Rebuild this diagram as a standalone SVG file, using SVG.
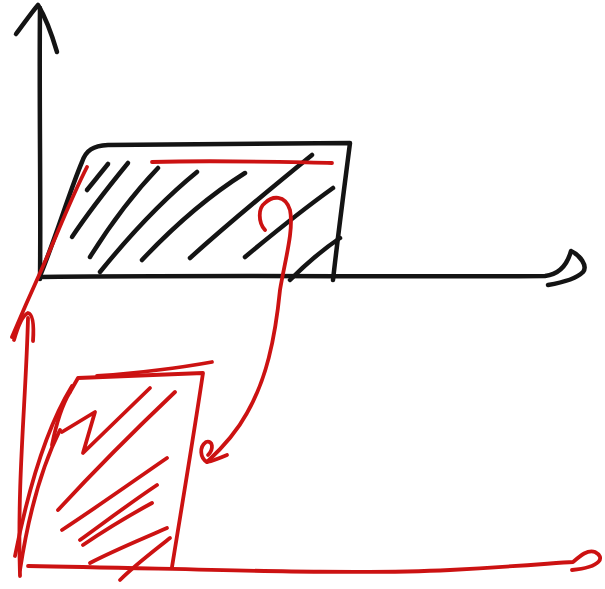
<svg xmlns="http://www.w3.org/2000/svg" width="605" height="589" viewBox="0 0 605 589">
<style>
.k{fill:none;stroke:#141414;stroke-width:4.5;stroke-linecap:round;stroke-linejoin:round}
.r{fill:none;stroke:#cc1212;stroke-width:3.8;stroke-linecap:round;stroke-linejoin:round}
</style>
<rect width="605" height="589" fill="#ffffff"/>
<g id="black-axes">
<path class="k" d="M40,279 C41,200 39,100 40,8"/>
<path class="k" d="M16,34 C25,22 32,12 38,5 C46,18 52,35 57,52"/>
<path class="k" d="M40,277 C200,275 400,277 545,276 C562,274 568,262 571,251 C580,255 588,266 583,272 C575,280 560,283 548,285"/>
</g>
<g id="black-box">
<path class="k" d="M40,276 C55,240 70,190 82,162 C86,150 93,146 108,145 L350,143 C344,190 338,235 333,280"/>
<path class="k" d="M87,190 L108,164"/>
<path class="k" d="M72,237 C90,210 110,185 128,163"/>
<path class="k" d="M90,257 C110,225 135,192 158,168"/>
<path class="k" d="M100,272 C130,235 165,198 197,172"/>
<path class="k" d="M142,260 C175,225 210,195 245,173"/>
<path class="k" d="M190,258 C230,222 275,185 312,155"/>
<path class="k" d="M245,257 C275,232 305,208 333,188"/>
<path class="k" d="M290,280 C305,265 322,250 340,238"/>
</g>
<g id="red-upper">
<path class="r" d="M152,162 C220,160 280,162 332,163"/>
<path class="r" d="M87,167 C70,200 55,240 40,273 C30,295 20,318 12,337"/>
<path class="r" d="M14,340 C18,326 23,315 28,313 C33,314 34,326 33,341"/>
<path class="r" d="M28,318 C26,400 17,480 20,576"/>
</g>
<g id="red-box">
<path class="r" d="M15,556 C28,490 45,430 72,386"/>
<path class="r" d="M20,570 C30,505 44,462 60,430"/>
<path class="r" stroke-width="6" d="M52,445 C57,420 62,405 70,392"/>
<path class="r" d="M70,392 L78,378 L203,373 C193,440 182,505 172,567"/>
<path class="r" d="M97,376 C150,372 190,366 212,362"/>
<path class="r" d="M62,432 L95,412 L83,453 L150,388"/>
<path class="r" stroke-width="5.5" d="M58,510 C95,470 135,430 175,392"/>
<path class="r" d="M62,530 C100,505 135,480 167,458"/>
<path class="r" d="M80,540 C105,522 130,503 157,485"/>
<path class="r" d="M83,545 C105,530 130,515 152,503"/>
<path class="r" d="M90,563 C115,550 140,540 167,528"/>
<path class="r" d="M120,580 C135,565 155,550 170,538"/>
<path class="r" d="M28,566 C200,569 350,575 450,570 C520,566 555,563 573,562 C580,556 588,549 595,552 C605,557 602,567 572,570"/>
</g>
<g id="connectors">
<path class="r" d="M265,230 C258,222 258,208 265,203 C272,196 285,194 290,210 C294,230 285,260 280,290 C275,340 266,380 247,413 C235,435 220,450 207,462"/>
<path class="r" d="M227,455 C220,458 212,461 207,462 C200,458 199,447 206,442 C213,440 214,449 208,455"/>
</g>
</svg>
